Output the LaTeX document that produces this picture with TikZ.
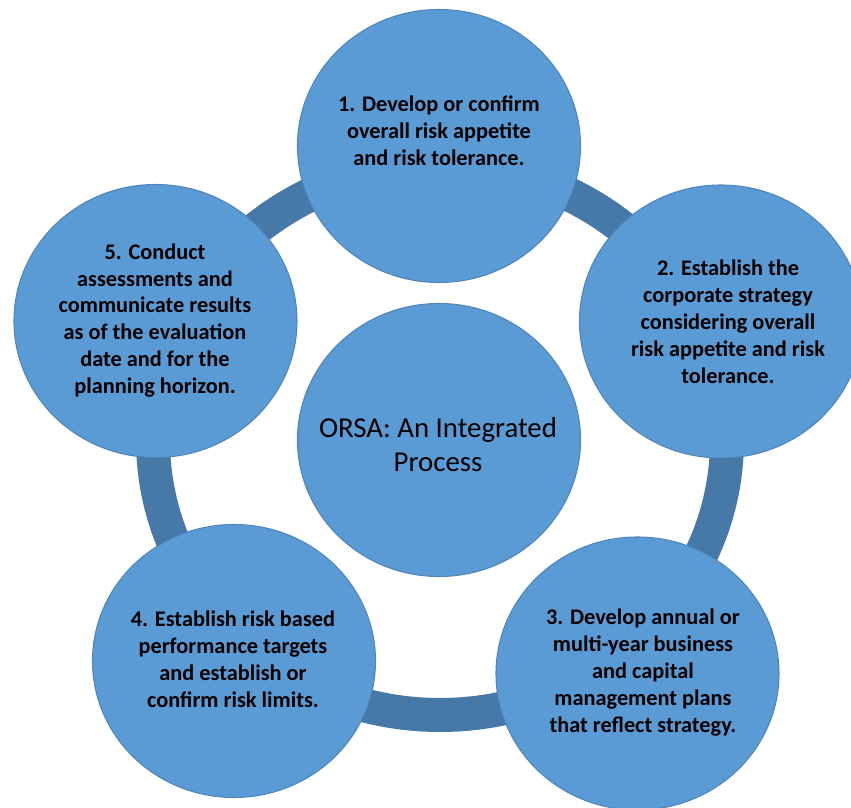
\documentclass[tikz,border=0pt]{standalone}
\usepackage{fontspec}
\setmainfont{Carlito}
\usetikzlibrary{shapes.geometric}
\definecolor{bubbleblue}{RGB}{91,155,213}
\definecolor{bubbleedge}{RGB}{78,132,186}
\definecolor{ringblue}{RGB}{70,120,168}

\begin{document}
\begin{tikzpicture}[
        bubble/.style={ellipse, draw=bubbleedge, line width=0.6pt, fill=bubbleblue, inner sep=0pt, minimum width=5.66cm, minimum height=5.46cm},
        steptext/.style={align=center, text=black, font=\fontsize{12.7}{15.3}\selectfont\bfseries},
        hubtext/.style={align=center, text=black, font=\fontsize{16.4}{19.8}\selectfont},
        ringband/.style={draw=ringblue, line width=0.68cm}
    ]
    \useasboundingbox (-8.78,-7.36) rectangle (8.24,8.8);
    \clip (-8.78,-7.36) rectangle (8.24,8.8);

    % Ring behind the circles
    \coordinate (mid) at (0.02, 0);
    \draw[ringband] (mid) ellipse (5.74cm and 5.5cm);

    % Centre and the five steps
    \node[bubble] (hub) at (0, 0) {};
    \node[bubble] (s1) at (0, 5.88) {};
    \node[bubble] (s2) at (5.64, 2.37) {};
    \node[bubble] (s3) at (3.97, -4.67) {};
    \node[bubble] (s4) at (-4.10, -4.42) {};
    \node[bubble] (s5) at (-5.67, 2.38) {};

    % Texts
    \node[hubtext] (t0) at (-0.02, -0.09) {ORSA: An Integrated\\Process};
    \node[steptext] (t1) at (0, 6.19) {1. Develop or confirm\\overall risk appetite\\and risk tolerance.};
    \node[steptext] (t2) at (5.78, 2.36) {2. Establish the\\corporate strategy\\considering overall\\risk appetite and risk\\tolerance.};
    \node[steptext] (t3) at (4.08, -4.65) {3. Develop annual or\\multi-year business\\and capital\\management plans\\that reflect strategy.};
    \node[steptext] (t4) at (-4.12, -4.38) {4. Establish risk based\\performance targets\\and establish or\\confirm risk limits.};
    \node[steptext] (t5) at (-5.68, 2.39) {5. Conduct\\assessments and\\communicate results\\as of the evaluation\\date and for the\\planning horizon.};
    \end{tikzpicture}
\end{document}
